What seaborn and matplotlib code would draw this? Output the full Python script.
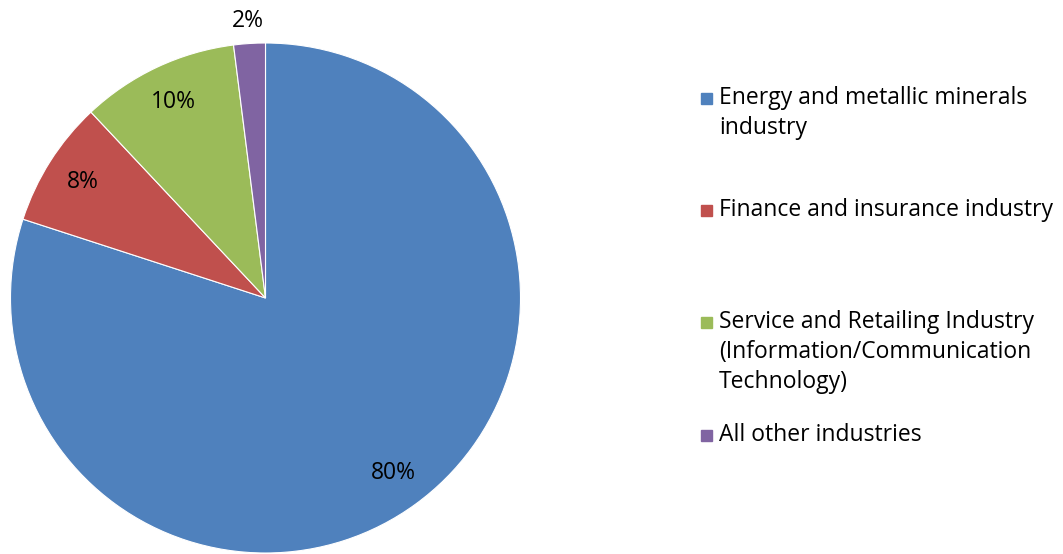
import numpy as np
import matplotlib.pyplot as plt
import seaborn as sns
from matplotlib.patches import Rectangle

industries = ["Energy and metallic minerals\nindustry",
              "Finance and insurance industry",
              "Service and Retailing Industry\n(Information/Communication\nTechnology)",
              "All other industries"]
shares = [80, 8, 10, 2]
colors = ["#4F81BD", "#C0504D", "#9BBB59", "#8064A2"]

sns.set_theme(style="white")
plt.rcParams['font.family'] = ['Open Sans', 'DejaVu Sans']
palette = sns.color_palette(colors)

W, H = 1063, 554
fig = plt.figure(figsize=(W / 100, H / 100), dpi=100)
ax = fig.add_axes([10 / W, 1 / H, 511 / W, 510 / H])

wedges, texts, autotexts = ax.pie(
    shares, colors=palette, startangle=90, counterclock=False,
    autopct="%d%%", pctdistance=0.85,
    wedgeprops=dict(edgecolor="white", linewidth=0.8),
    textprops=dict(fontsize=16.5, color="black"))

# small slice label sits outside the pie
w = wedges[-1]
mid = np.deg2rad((w.theta1 + w.theta2) / 2)
autotexts[-1].set_position((1.09 * np.cos(mid), 1.09 * np.sin(mid)))

ax.set_xlim(-1, 1)
ax.set_ylim(-1, 1)
ax.set_aspect("equal")

# legend drawn by hand to mimic Excel spacing
legend_y = [98, 210, 322, 435]
line_h = 30
for label, c, y0 in zip(industries, palette, legend_y):
    fig.patches.append(Rectangle((701 / W, 1 - (y0 + 6) / H), 11 / W, 11 / H,
                                 transform=fig.transFigure, color=c))
    for i, line in enumerate(label.split("\n")):
        fig.text(719 / W, 1 - (y0 + i * line_h) / H, line, fontsize=16.5,
                 va="center", ha="left", color="black")

fig.savefig("out.png", dpi=100)
